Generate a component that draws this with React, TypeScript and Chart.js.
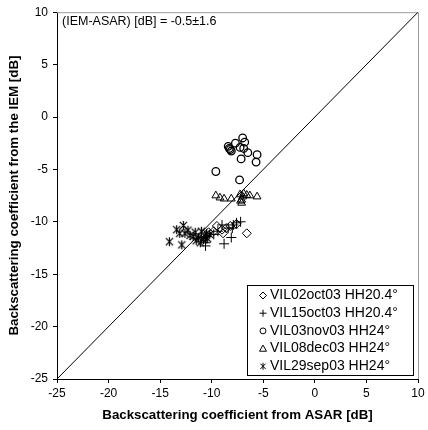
import React, { useEffect, useRef } from 'react';
import { Chart, registerables } from 'chart.js';
Chart.register(...registerables);

const FONT = "'Liberation Sans', Arial, sans-serif";

const AXIS_MIN = -25;
const AXIS_MAX = 10;
const AXIS_STEP = 5;
const xTitle = 'Backscattering coefficient from ASAR [dB]';
const yTitle = 'Backscattering coefficient from the IEM [dB]';
const annotationText = '(IEM-ASAR) [dB] = -0.5±1.6';
const seriesNames = [
  'VIL02oct03 HH20.4°',
  'VIL15oct03 HH20.4°',
  'VIL03nov03 HH24°',
  'VIL08dec03 HH24°',
  'VIL29sep03 HH24°',
];

const oct02X = [-9.5, -9.0, -9.8, -8.6, -7.6, -8.9, -6.6, -10.3, -8.2];
const oct02Y = [-10.4, -10.75, -10.9, -10.6, -10.2, -11.1, -11.1, -11.0, -10.4];

const oct15X = [-10.6, -8.8, -8.1, -7.9, -7.2, -7.6, -9.0, -8.4, -9.4, -10.5, -11.0, -10.6, -9.8, -8.0];
const oct15Y = [-12.0, -12.1, -11.5, -10.3, -10.0, -10.1, -10.3, -10.6, -10.9, -11.4, -11.5, -12.3, -11.2, -10.6];

const nov03X = [-7.0, -7.7, -6.8, -8.4, -8.2, -8.1, -8.3, -7.25, -6.9, -6.5, -5.6, -7.15, -5.7, -9.6, -7.3];
const nov03Y = [-2.0, -2.5, -2.4, -2.8, -3.1, -3.25, -3.0, -2.9, -3.0, -3.4, -3.6, -4.0, -4.3, -5.2, -6.0];

const dec08X = [-9.6, -9.2, -8.8, -8.1, -7.25, -6.9, -6.6, -6.3, -5.6, -7.1, -7.1, -7.0, -7.2];
const dec08Y = [-7.5, -7.7, -7.8, -7.8, -7.4, -7.3, -7.45, -7.5, -7.6, -7.9, -8.2, -7.6, -8.0];

const sep29X = [-14.1, -12.9, -13.4, -12.75, -13.1, -12.6, -12.1, -11.6, -11.3, -11.0, -10.65, -10.5, -11.1, -12.3, -11.8, -10.8, -10.2, -11.5, -10.4];
const sep29Y = [-11.9, -12.2, -10.75, -10.35, -11.1, -11.1, -11.3, -11.0, -11.5, -10.9, -11.4, -11.1, -12.0, -10.8, -11.4, -11.7, -11.2, -11.8, -11.6];

const toPoints = (xs: number[], ys: number[]) => xs.map((x, i) => ({ x, y: ys[i] }));

function makeStar(size: number): HTMLCanvasElement {
  const c = document.createElement('canvas');
  c.width = size;
  c.height = size;
  const g = c.getContext('2d')!;
  const m = size / 2;
  const r = size / 2 - 1;
  g.strokeStyle = '#000';
  g.lineWidth = 1.2;
  g.beginPath();
  g.moveTo(m - r * 0.8, m - r * 0.8);
  g.lineTo(m + r * 0.8, m + r * 0.8);
  g.moveTo(m + r * 0.8, m - r * 0.8);
  g.lineTo(m - r * 0.8, m + r * 0.8);
  g.moveTo(m, m - r);
  g.lineTo(m, m + r);
  g.stroke();
  return c;
}

function drawMarker(ctx: CanvasRenderingContext2D, kind: number, x: number, y: number, r: number) {
  ctx.save();
  ctx.strokeStyle = '#000';
  ctx.lineWidth = 1;
  ctx.beginPath();
  if (kind === 0) {
    ctx.moveTo(x, y - r);
    ctx.lineTo(x + r, y);
    ctx.lineTo(x, y + r);
    ctx.lineTo(x - r, y);
    ctx.closePath();
  } else if (kind === 1) {
    ctx.moveTo(x - r, y);
    ctx.lineTo(x + r, y);
    ctx.moveTo(x, y - r);
    ctx.lineTo(x, y + r);
  } else if (kind === 2) {
    ctx.arc(x, y, r * 0.85, 0, Math.PI * 2);
  } else if (kind === 3) {
    ctx.moveTo(x, y - r);
    ctx.lineTo(x + r, y + r * 0.75);
    ctx.lineTo(x - r, y + r * 0.75);
    ctx.closePath();
  } else {
    const d = r * 0.75;
    ctx.moveTo(x - d, y - d);
    ctx.lineTo(x + d, y + d);
    ctx.moveTo(x + d, y - d);
    ctx.lineTo(x - d, y + d);
    ctx.moveTo(x, y - r);
    ctx.lineTo(x, y + r);
  }
  ctx.stroke();
  ctx.restore();
}

const decorPlugin = {
  id: 'decor',
  beforeDatasetsDraw(chart: any) {
    const { ctx, chartArea: a } = chart;
    ctx.save();
    ctx.strokeStyle = '#9a9a9a';
    ctx.lineWidth = 1;
    ctx.beginPath();
    ctx.moveTo(a.left, a.top + 0.5);
    ctx.lineTo(a.right + 0.5, a.top + 0.5);
    ctx.lineTo(a.right + 0.5, a.bottom);
    ctx.stroke();
    ctx.fillStyle = '#000';
    ctx.font = `12.5px ${FONT}`;
    ctx.textBaseline = 'middle';
    ctx.textAlign = 'left';
    ctx.fillText(annotationText, a.left + 5, a.top + 9);
    ctx.restore();
  },
  afterDatasetsDraw(chart: any) {
    const { ctx, chartArea: a } = chart;
    const left = a.right - 171;
    const right = a.right - 5;
    const top = a.bottom - 94;
    const bottom = a.bottom - 4;
    ctx.save();
    ctx.fillStyle = '#fff';
    ctx.fillRect(left, top, right - left, bottom - top);
    ctx.strokeStyle = '#000';
    ctx.lineWidth = 1;
    ctx.strokeRect(left + 0.5, top + 0.5, right - left, bottom - top);
    ctx.fillStyle = '#000';
    ctx.font = `14px ${FONT}`;
    ctx.textBaseline = 'middle';
    ctx.textAlign = 'left';
    seriesNames.forEach((name, i) => {
      const y = top + 10.5 + i * 17.7;
      drawMarker(ctx, i, left + 16, y, 3.5);
      ctx.fillText(name, left + 23, y);
    });
    ctx.restore();
  },
};

export default function App() {
  const ref = useRef<HTMLCanvasElement | null>(null);
  useEffect(() => {
    document.body.style.margin = '0';
    const canvas = ref.current!;
    const star = makeStar(11);
    const base = {
      borderColor: '#000',
      backgroundColor: 'rgba(0,0,0,0)',
      borderWidth: 1,
      showLine: false,
    };
    const chart = new Chart(canvas, {
      type: 'scatter',
      data: {
        datasets: [
          {
            label: 'one-to-one',
            data: [{ x: AXIS_MIN, y: AXIS_MIN }, { x: AXIS_MAX, y: AXIS_MAX }],
            showLine: true,
            borderColor: '#000',
            borderWidth: 1,
            pointRadius: 0,
            fill: false,
          } as any,
          { ...base, label: seriesNames[0], data: toPoints(oct02X, oct02Y), pointStyle: 'rectRot', pointRadius: 4.5 },
          { ...base, label: seriesNames[1], data: toPoints(oct15X, oct15Y), pointStyle: 'cross', pointRadius: 5 },
          { ...base, label: seriesNames[2], data: toPoints(nov03X, nov03Y), pointStyle: 'circle', pointRadius: 3.8, borderWidth: 1.3 },
          { ...base, label: seriesNames[3], data: toPoints(dec08X, dec08Y), pointStyle: 'triangle', pointRadius: 4.5 },
          { ...base, label: seriesNames[4], data: toPoints(sep29X, sep29Y), pointStyle: star as any, pointRadius: 5 },
        ],
      },
      options: {
        animation: false,
        responsive: false,
        layout: { padding: { top: 9, right: 10, left: 0, bottom: 0 } },
        plugins: { legend: { display: false }, tooltip: { enabled: false } },
        scales: {
          x: {
            type: 'linear',
            min: AXIS_MIN,
            max: AXIS_MAX,
            ticks: { stepSize: AXIS_STEP, color: '#000', font: { family: FONT, size: 12 }, padding: 3 },
            grid: { drawOnChartArea: false, drawTicks: true, tickLength: 4, color: '#000' },
            border: { display: true, color: '#000', width: 1 },
            title: { display: true, text: xTitle, color: '#000', font: { family: FONT, size: 13.3, weight: 'bold' }, padding: { top: 4, bottom: 7 } },
            afterFit: (s: any) => { s.height = 51; },
          },
          y: {
            type: 'linear',
            min: AXIS_MIN,
            max: AXIS_MAX,
            ticks: { stepSize: AXIS_STEP, color: '#000', font: { family: FONT, size: 12 }, padding: 5 },
            grid: { drawOnChartArea: false, drawTicks: true, tickLength: 4, color: '#000' },
            border: { display: true, color: '#000', width: 1 },
            title: { display: true, text: yTitle, color: '#000', font: { family: FONT, size: 13.3, weight: 'bold' }, padding: { top: 6, bottom: 0 } },
            afterFit: (s: any) => { s.width = 57; },
          },
        },
      },
      plugins: [decorPlugin],
    });
    return () => chart.destroy();
  }, []);
  return <canvas ref={ref} width={428} height={430} style={{ display: 'block' }} />;
}
